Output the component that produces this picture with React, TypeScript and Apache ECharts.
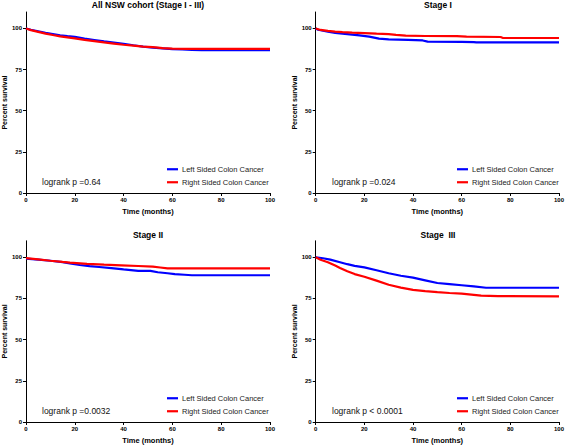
import React, { useEffect, useRef } from "react";
import * as echarts from "echarts";

const titles = ["All NSW cohort (Stage I - III)", "Stage I", "Stage II", "Stage  III"];
const pValues = ["logrank p =0.64", "logrank p =0.024", "logrank p =0.0032", "logrank p < 0.0001"];
const seriesNames = ["Left Sided Colon Cancer", "Right Sided Colon Cancer"];
const yTicks = [0, 25, 50, 75, 100];

const allLeft = [[0,100],[2,99.2],[5,98.3],[8,97.4],[11,96.6],[14,95.8],[17,95.3],[20,94.9],[24,93.9],[28,93.0],[32,92.1],[36,91.4],[40,90.7],[44,89.8],[48,89.0],[52,88.4],[56,87.9],[60,87.4],[64,87.2],[68,87.0],[72,86.8],[100,86.8]];
const allRight = [[0,100],[2,99.0],[5,97.9],[8,96.9],[11,96.0],[14,95.2],[17,94.6],[20,94.0],[24,93.1],[28,92.3],[32,91.5],[36,90.8],[40,90.1],[44,89.6],[48,89.0],[52,88.6],[56,88.1],[60,87.8],[66,87.6],[100,87.6]];
const s1Left = [[0,100],[1,99.2],[3,98.6],[5,98.1],[8,97.3],[11,96.8],[15,96.3],[18,95.8],[22,95.0],[26,93.8],[30,93.4],[38,93.1],[44,92.7],[46,92.0],[60,91.8],[65,91.7],[66,91.5],[100,91.5]];
const s1Right = [[0,100],[2,99.1],[5,98.5],[8,98.1],[11,97.8],[15,97.5],[20,97.2],[25,96.8],[30,96.5],[33,96.1],[37,95.6],[45,95.4],[58,95.3],[62,95.0],[76,94.8],[77,94.2],[100,94.2]];
const s2Left = [[0,99.2],[5,98.6],[10,97.9],[15,97.1],[18,96.3],[22,95.3],[26,94.6],[30,94.1],[35,93.4],[40,92.6],[43,92.2],[46,91.8],[51,91.7],[54,90.9],[58,90.3],[61,89.8],[65,89.4],[68,89.1],[100,89.1]];
const s2Right = [[0,99.5],[5,98.7],[10,97.9],[15,97.2],[18,96.8],[25,96.0],[32,95.5],[39,95.1],[46,94.7],[52,94.3],[55,93.8],[58,93.3],[100,93.3]];
const s3Left = [[0,100],[3,99.4],[6,98.6],[10,97.0],[13,95.8],[16,94.8],[20,93.9],[25,92.1],[30,90.3],[35,88.8],[40,87.6],[45,86.0],[50,84.4],[55,83.7],[60,83.0],[65,82.3],[70,81.5],[100,81.5]];
const s3Right = [[0,100],[2,98.5],[5,97.0],[8,95.0],[10,93.5],[13,91.5],[16,89.8],[20,88.2],[25,85.8],[30,83.3],[35,81.6],[40,80.2],[45,79.4],[50,78.8],[55,78.3],[60,77.9],[65,77.2],[68,76.7],[75,76.4],[100,76.3]];

const panelData = [
  [allLeft, allRight],
  [s1Left, s1Right],
  [s2Left, s2Right],
  [s3Left, s3Right],
];

const FONT = "'Liberation Sans', Arial, sans-serif";
const colors = ["#0000ff", "#ff0000"];

const grids = [
  { left: 25.7, right: 297, top: 12, bottom: 254 },
  { left: 315.7, right: 6.3, top: 12, bottom: 254 },
  { left: 25.7, right: 297, top: 240.8, bottom: 25 },
  { left: 315.7, right: 6.3, top: 240.8, bottom: 25 },
];
const titlePos = [[148, 5], [438, 5], [148, 235], [438, 235]];
const legendPos = [[167, 165], [457, 165], [167, 394], [457, 394]];
const pPos = [[42, 182], [332, 182], [42, 411], [332, 411]];

export default function App() {
  const ref = useRef<HTMLDivElement>(null);
  useEffect(() => {
    const chart = echarts.init(ref.current!, null, { renderer: "svg" });
    const axisStyle = { lineStyle: { color: "#000", width: 1 } };
    const option: any = {
      animation: false,
      backgroundColor: "#fff",
      textStyle: { fontFamily: FONT },
      grid: grids.map((g) => ({ ...g, containLabel: false })),
      xAxis: grids.map((_, i) => ({
        type: "value",
        gridIndex: i,
        min: 0,
        max: 100,
        interval: 20,
        name: "Time (months)",
        nameLocation: "middle",
        nameGap: 14,
        nameTextStyle: { fontFamily: FONT, fontSize: 7.5, fontWeight: "bold", color: "#000" },
        axisLine: axisStyle,
        axisTick: { show: true, length: 3, lineStyle: { color: "#000" } },
        axisLabel: { fontFamily: FONT, fontSize: 6, fontWeight: "bold", color: "#000", margin: 4 },
        splitLine: { show: false },
      })),
      yAxis: grids.map((_, i) => ({
        type: "value",
        gridIndex: i,
        min: 0,
        max: 110,
        name: "Percent survival",
        nameLocation: "middle",
        nameGap: 18,
        nameTextStyle: { fontFamily: FONT, fontSize: 7, fontWeight: "bold", color: "#000" },
        axisLine: { show: true, ...axisStyle },
        axisTick: { show: true, length: 3, lineStyle: { color: "#000" }, customValues: yTicks },
        axisLabel: { fontFamily: FONT, fontSize: 6, fontWeight: "bold", color: "#000", margin: 4, customValues: yTicks },
        splitLine: { show: false },
      })),
      legend: legendPos.map((p) => ({
        left: p[0],
        top: p[1],
        orient: "vertical",
        icon: "rect",
        itemWidth: 11,
        itemHeight: 2.2,
        itemGap: 4.5,
        padding: 0,
        selectedMode: false,
        itemStyle: { borderWidth: 0 },
        lineStyle: { width: 0 },
        data: seriesNames,
        textStyle: { fontFamily: FONT, fontSize: 7.5, color: "#222", lineHeight: 8.5, padding: [0, 0, 0, -1] },
      })),
      series: panelData.flatMap((pair, i) =>
        pair.map((d, j) => ({
          type: "line",
          name: seriesNames[j],
          xAxisIndex: i,
          yAxisIndex: i,
          data: d,
          showSymbol: false,
          symbol: "none",
          color: colors[j],
          lineStyle: { color: colors[j], width: 2.2 },
          z: 2 + j,
        }))
      ),
      graphic: [
        ...titles.map((t, i) => ({
          type: "text",
          x: titlePos[i][0],
          y: titlePos[i][1],
          style: {
            text: t,
            font: `bold 8.5px ${FONT}`,
            fill: "#000",
            textAlign: "center",
            textVerticalAlign: "middle",
          },
        })),
        ...pValues.map((t, i) => ({
          type: "text",
          x: pPos[i][0],
          y: pPos[i][1],
          style: { text: t, font: `8.5px ${FONT}`, fill: "#111", textVerticalAlign: "middle" },
        })),
      ],
    };
    chart.setOption(option);
    return () => chart.dispose();
  }, []);
  return (
    <div
      ref={ref}
      style={{ position: "absolute", left: 0, top: 0, width: 567, height: 447 }}
    />
  );
}
